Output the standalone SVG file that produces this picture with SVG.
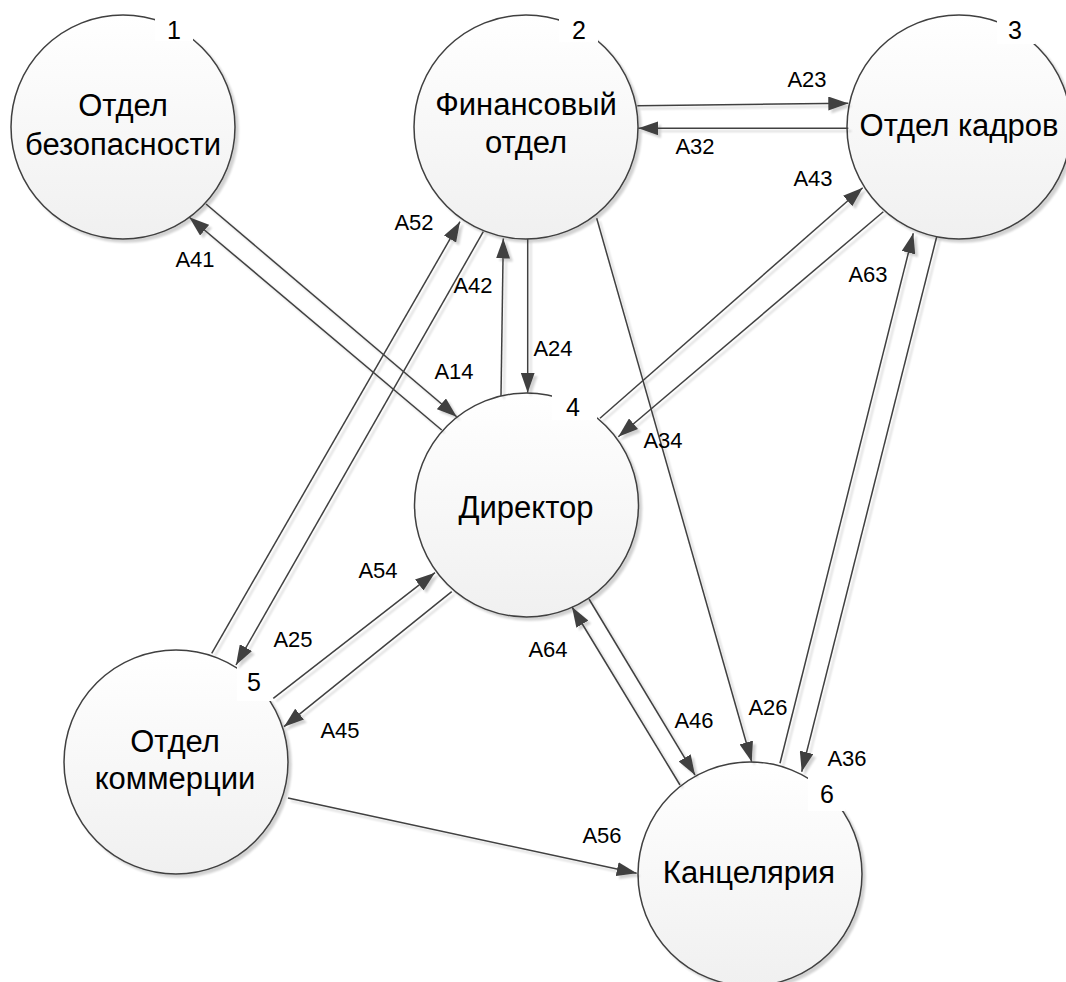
<svg xmlns="http://www.w3.org/2000/svg" width="1066" height="982" viewBox="0 0 1066 982">
<defs>
  <linearGradient id="fillGrad" x1="0" y1="0" x2="0" y2="1">
    <stop offset="0" stop-color="#ffffff"/>
    <stop offset="1" stop-color="#f0f0f0"/>
  </linearGradient>
  <filter id="shadow" x="-10%" y="-10%" width="125%" height="125%">
    <feGaussianBlur in="SourceAlpha" stdDeviation="1.2" result="b"/>
    <feOffset in="b" dx="3" dy="3" result="o"/>
    <feComponentTransfer in="o" result="s"><feFuncA type="linear" slope="0.18"/></feComponentTransfer>
    <feMerge><feMergeNode in="s"/><feMergeNode in="SourceGraphic"/></feMerge>
  </filter>
  <filter id="lshadow" x="-20%" y="-20%" width="140%" height="140%" filterUnits="userSpaceOnUse">
    <feGaussianBlur in="SourceAlpha" stdDeviation="0.8" result="b"/>
    <feOffset in="b" dx="2.5" dy="2.5" result="o"/>
    <feComponentTransfer in="o" result="s"><feFuncA type="linear" slope="0.18"/></feComponentTransfer>
    <feMerge><feMergeNode in="s"/><feMergeNode in="SourceGraphic"/></feMerge>
  </filter>
  <marker id="arrow" markerUnits="userSpaceOnUse" viewBox="0 0 20 14" markerWidth="20" markerHeight="14" refX="20" refY="7" orient="auto">
    <path d="M0,0 L20,7 L0,14 z" fill="#404040"/>
  </marker>
  <style>
    .node circle { fill: url(#fillGrad); stroke: #404040; stroke-width: 1.5; filter: url(#shadow); }
    .box { fill: #ffffff; stroke: none; }
    text { font-family: "Liberation Sans", Arial, sans-serif; fill: #000000; text-anchor: middle; }
    .title { font-size: 31px; }
    .num { font-size: 25px; }
    .lbl { font-size: 22px; }
    .conn line { stroke: #404040; stroke-width: 1.5; fill: none; marker-end: url(#arrow); }
  </style>
</defs>
<rect x="0" y="0" width="1066" height="982" fill="#ffffff"/>

<g id="node1" class="node">
  <circle cx="123" cy="127" r="112"/>
  <rect class="box" x="155" y="6" width="38" height="35"/>
  <text class="num" x="174" y="39">1</text>
  <text class="title" x="123" y="116">Отдел</text>
  <text class="title" x="123" y="155">безопасности</text>
</g>
<g id="node2" class="node">
  <circle cx="526" cy="127" r="112"/>
  <rect class="box" x="559" y="6" width="39" height="36"/>
  <text class="num" x="579" y="39">2</text>
  <text class="title" x="526" y="115">Финансовый</text>
  <text class="title" x="526" y="153">отдел</text>
</g>
<g id="node3" class="node">
  <circle cx="959" cy="127" r="112"/>
  <rect class="box" x="997" y="6" width="38" height="38"/>
  <text class="num" x="1015" y="39">3</text>
  <text class="title" x="959" y="136">Отдел кадров</text>
</g>
<g id="node4" class="node">
  <circle cx="526.5" cy="505" r="112"/>
  <rect class="box" x="552" y="386" width="45" height="34"/>
  <text class="num" x="573" y="416">4</text>
  <text class="title" x="526" y="518">Директор</text>
</g>
<g id="node5" class="node">
  <circle cx="176" cy="762" r="112"/>
  <rect class="box" x="237" y="666" width="36" height="35"/>
  <text class="num" x="254" y="691">5</text>
  <text class="title" x="175" y="752">Отдел</text>
  <text class="title" x="175" y="789">коммерции</text>
</g>
<g id="node6" class="node">
  <circle cx="750" cy="874" r="112"/>
  <rect class="box" x="808" y="772" width="37" height="39"/>
  <text class="num" x="827" y="803">6</text>
  <text class="title" x="749" y="883">Канцелярия</text>
</g>

<g id="connectors" class="conn">
  <g filter="url(#lshadow)">
    <line x1="206" y1="204" x2="456.7" y2="416.7"/>
    <line x1="441.7" y1="430" x2="189.3" y2="217.3"/>
    <line x1="211.7" y1="653.3" x2="460" y2="221.7"/>
    <line x1="483.3" y1="231.7" x2="236" y2="665"/>
    <line x1="501" y1="396" x2="503.3" y2="238.5"/>
    <line x1="527.7" y1="239" x2="527.7" y2="392.7"/>
    <line x1="637.3" y1="105.7" x2="848.3" y2="103.3"/>
    <line x1="848.3" y1="128.3" x2="638.3" y2="128.3"/>
    <line x1="600" y1="418.3" x2="862.7" y2="187.7"/>
    <line x1="883.3" y1="211.7" x2="618.3" y2="436.7"/>
    <line x1="596.7" y1="218.3" x2="751.7" y2="761.7"/>
    <line x1="780" y1="763.3" x2="913.3" y2="233.3"/>
    <line x1="936.7" y1="236.7" x2="801.7" y2="771.7"/>
    <line x1="273.3" y1="698.3" x2="435" y2="572.7"/>
    <line x1="451.7" y1="591.7" x2="284" y2="726.7"/>
    <line x1="680" y1="785" x2="572" y2="607"/>
    <line x1="589" y1="599" x2="695" y2="775"/>
    <line x1="288" y1="798" x2="636.7" y2="873.3"/>
  </g>
  <g id="labels">
    <text class="lbl" x="195" y="267">A41</text>
    <text class="lbl" x="454" y="379">A14</text>
    <text class="lbl" x="414" y="230">A52</text>
    <text class="lbl" x="293" y="647">A25</text>
    <text class="lbl" x="473" y="293">A42</text>
    <text class="lbl" x="553" y="356">A24</text>
    <text class="lbl" x="807" y="87">A23</text>
    <text class="lbl" x="695" y="154">A32</text>
    <text class="lbl" x="813" y="186">A43</text>
    <text class="lbl" x="663" y="448">A34</text>
    <text class="lbl" x="868" y="282">A63</text>
    <text class="lbl" x="768" y="715">A26</text>
    <text class="lbl" x="847" y="766">A36</text>
    <text class="lbl" x="378" y="578">A54</text>
    <text class="lbl" x="340" y="738">A45</text>
    <text class="lbl" x="548" y="657">A64</text>
    <text class="lbl" x="694" y="728">A46</text>
    <text class="lbl" x="602" y="843">A56</text>
  </g>
</g>
</svg>
